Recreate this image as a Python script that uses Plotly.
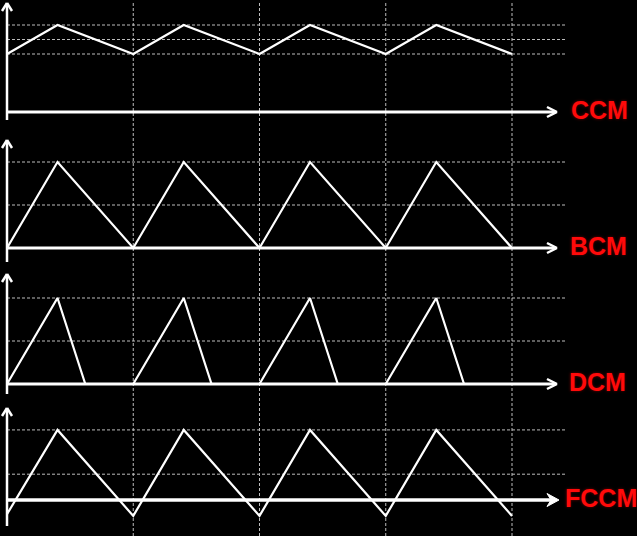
import plotly.graph_objects as go

# ---------------- data ----------------
mode_labels = ["CCM", "BCM", "DCM", "FCCM"]

t_ccm = [0, 0.4, 1, 1.4, 2, 2.4, 3, 3.4, 4]
i_ccm = [2, 3, 2, 3, 2, 3, 2, 3, 2]

t_bcm = [0, 0.4, 1, 1.4, 2, 2.4, 3, 3.4, 4]
i_bcm = [0, 2, 0, 2, 0, 2, 0, 2, 0]

t_dcm = [0, 0.4, 0.62, 1, 1.4, 1.62, 2, 2.4, 2.62, 3, 3.4, 3.62, 4]
i_dcm = [0, 2, 0, 0, 2, 0, 0, 2, 0, 0, 2, 0, 0]

t_fccm = [0, 0.4, 1, 1.4, 2, 2.4, 3, 3.4, 4]
i_fccm = [-0.33, 1.63, -0.37, 1.63, -0.37, 1.63, -0.37, 1.63, -0.37]

grid_ccm = [2, 2.5, 3]
grid_bcm = [1, 2]
grid_dcm = [1, 2]
grid_fccm = [0.6, 1.63]

period_marks = [1, 2, 3, 4]

# ---------------- layout constants (pixels) ----------------
W, H = 637, 536
X0_PX, PERIOD_PX = 7, 126.25
# (base line px, px per unit, band top px, band bottom px, vertical-axis top px, bottom px)
panels = [
    (112, 29, 0, 134, 3, 120),
    (248, 43, 134, 268, 140, 262),
    (384, 43, 268, 402, 274, 394),
    (500, 43, 402, 536, 408, 526),
]
arrow_tip_px = [557, 557, 557, 559]
label_left_px = [569, 568, 567, 563]
grid_end_px = 565

series = [(t_ccm, i_ccm, grid_ccm), (t_bcm, i_bcm, grid_bcm),
          (t_dcm, i_dcm, grid_dcm), (t_fccm, i_fccm, grid_fccm)]


def px_to_t(px):
    return (px - X0_PX) / PERIOD_PX


fig = go.Figure()
layout_axes = {}
shapes = []
annotations = []

GRID = dict(color="#bdbdbd", width=1, dash="3px,2px")
WHITE = "#ffffff"

for k, ((base, unit, top, bot, vtop, vbot), (ts, vs, grid)) in enumerate(zip(panels, series)):
    yname = "y" if k == 0 else f"y{k+1}"
    ykey = "yaxis" if k == 0 else f"yaxis{k+1}"
    layout_axes[ykey] = dict(
        domain=[1 - bot / H, 1 - top / H],
        range=[(base - bot) / unit, (base - top) / unit],
        visible=False, fixedrange=True, anchor="x",
    )
    fig.add_trace(go.Scatter(
        x=ts, y=vs, mode="lines", xaxis="x", yaxis=yname,
        line=dict(color=WHITE, width=2.2), hoverinfo="skip", showlegend=False,
    ))
    # horizontal dashed gridlines
    for g in grid:
        shapes.append(dict(type="line", xref="x", yref=yname, x0=0, x1=px_to_t(grid_end_px),
                           y0=g, y1=g, line=GRID, layer="below"))
    # horizontal axis with arrow
    tip = px_to_t(arrow_tip_px[k])
    shapes.append(dict(type="line", xref="x", yref=yname, x0=0, x1=tip - (0.03 if k == 3 else 0.01),
                       y0=0, y1=0, line=dict(color=WHITE, width=3 if k < 3 else 3.5)))
    if k < 3:
        for s in (5, -5):
            shapes.append(dict(type="line", xref="x", yref=yname, xsizemode="pixel", ysizemode="pixel",
                               xanchor=tip, yanchor=0, x0=-10, x1=0, y0=s, y1=0,
                               line=dict(color=WHITE, width=2.5)))
    else:
        shapes.append(dict(type="path", xref="x", yref=yname, xsizemode="pixel", ysizemode="pixel",
                           xanchor=tip, yanchor=0, path="M0,0 L-12,6.5 L-8,0 L-12,-6.5 Z",
                           fillcolor=WHITE, line=dict(color=WHITE, width=1)))
    # vertical axis with arrow
    vt = (base - vtop) / unit
    vb = (base - vbot) / unit
    shapes.append(dict(type="line", xref="x", yref=yname, x0=0, x1=0, y0=vb, y1=vt - 0.01,
                       line=dict(color=WHITE, width=2.5)))
    for s in (5, -5):
        shapes.append(dict(type="line", xref="x", yref=yname, xsizemode="pixel", ysizemode="pixel",
                           xanchor=0, yanchor=vt, x0=s, x1=0, y0=-8, y1=0,
                           line=dict(color=WHITE, width=2.5)))
    # label
    annotations.append(dict(
        x=label_left_px[k] / W, xref="paper", y=0, yref=yname, yshift=2,
        text=f"<b>{mode_labels[k]}</b>", showarrow=False, xanchor="left", yanchor="middle",
        font=dict(family="Liberation Sans, Arial, sans-serif", size=25, color="#ff0a0a",
                  shadow="0px 0px 3px #700000"),
    ))

# vertical dotted period lines over the full height
for m in period_marks:
    shapes.append(dict(type="line", xref="x", yref="paper", x0=m, x1=m, y0=0, y1=1 - 3 / H,
                       line=GRID, layer="below"))

fig.update_layout(
    width=W, height=H,
    margin=dict(l=0, r=0, t=0, b=0),
    paper_bgcolor="#000000", plot_bgcolor="#000000",
    xaxis=dict(domain=[0, 1], range=[px_to_t(0), px_to_t(W)], visible=False, fixedrange=True),
    shapes=shapes, annotations=annotations, showlegend=False,
    **layout_axes,
)

fig.write_html("out.html", config={"displayModeBar": False})
